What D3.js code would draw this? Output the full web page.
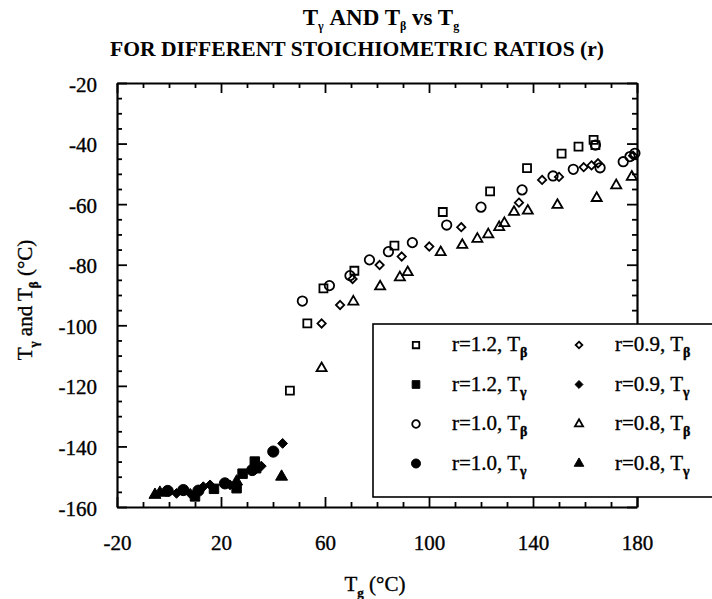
<!DOCTYPE html>
<html>
<head>
<meta charset="utf-8">
<script src="https://cdn.jsdelivr.net/npm/d3@7"></script>
<style>
  body { margin: 0; background: #fff; }
  text { font-family: "Liberation Serif", "Times New Roman", serif; fill: #000; }
  .heavy { stroke: #000; stroke-width: 0.35px; }
</style>
</head>
<body>
<div id="wrapper"></div>
<script>
// data: [Tg, T]
const r12Beta = [[46.5,-121.6],[53.2,-99.4],[59.4,-87.8],[71.3,-82],[86.7,-73.7],[105.3,-62.6],
  [123.5,-55.8],[137.7,-48.1],[151,-43.3],[157.5,-41],[163.3,-38.8],[164,-40.5]]
const r12Gamma = [[10,-156.5],[17.3,-154],[26,-153.8],[28.3,-149],[33,-145],[33.5,-147.2]]
const r10Beta = [[51.3,-92],[61.7,-86.9],[69.6,-83.6],[77.1,-78.4],[84.4,-75.7],[93.6,-72.7],
  [106.8,-66.9],[120,-61],[135.8,-55.3],[147.7,-50.7],[155.5,-48.5],[165.8,-48],[164,-40.5],
  [174.7,-46],[177.3,-44.3],[179.2,-43.2]]
const r10Gamma = [[-0.5,-154.7],[5.5,-154.4],[11.3,-154.6],[21.5,-152.2],[32,-147.8],[40.1,-141.7]]
const r09Beta = [[58.7,-99.4],[65.8,-93.3],[70.6,-84.7],[81,-80.1],[89.5,-77.3],[100.1,-74],
  [112.4,-67.6],[134.6,-59.5],[143.5,-52],[150,-51],[159.5,-47.8],[162.5,-47.2],[165,-46.5],[178.5,-44]]
const r09Gamma = [[2.9,-155.5],[8.1,-155.5],[13.2,-153.3],[15.8,-152.7],[23.5,-152.7],[35.5,-146.5],[43.7,-139]]
const r08Beta = [[58.7,-114.2],[70.9,-92.2],[81.2,-87.2],[88.8,-84.2],[91.8,-82.5],[104.5,-75.9],
  [112.8,-73.5],[118.6,-71.5],[122.8,-70],[127,-67.6],[129,-66.3],[132.7,-62.6],[138,-62.2],
  [149.4,-60.3],[164.5,-58],[172,-53.8],[178,-51]]
const r08Gamma = [[-5.4,-156],[-3.5,-155.3],[26,-151.6],[43.3,-150]]

const xTicks = [-20, 20, 60, 100, 140, 180]
const yTicks = [-20, -40, -60, -80, -100, -120, -140, -160]

const series = [
  { label: "r=1.2, ", sub: "β", data: r12Beta, shape: "square", filled: false },
  { label: "r=1.2, ", sub: "γ", data: r12Gamma, shape: "square", filled: true },
  { label: "r=1.0, ", sub: "β", data: r10Beta, shape: "circle", filled: false },
  { label: "r=1.0, ", sub: "γ", data: r10Gamma, shape: "circle", filled: true },
  { label: "r=0.9, ", sub: "β", data: r09Beta, shape: "diamond", filled: false },
  { label: "r=0.9, ", sub: "γ", data: r09Gamma, shape: "diamond", filled: true },
  { label: "r=0.8, ", sub: "β", data: r08Beta, shape: "triangle", filled: false },
  { label: "r=0.8, ", sub: "γ", data: r08Gamma, shape: "triangle", filled: true },
]

const dimensions = {
  width: 712,
  height: 599,
  margin: { top: 83, right: 75, bottom: 92, left: 117 },
}
dimensions.boundedWidth = dimensions.width - dimensions.margin.left - dimensions.margin.right
dimensions.boundedHeight = dimensions.height - dimensions.margin.top - dimensions.margin.bottom

const svg = d3.select("#wrapper").append("svg")
    .attr("width", dimensions.width)
    .attr("height", dimensions.height)

const bounds = svg.append("g")
    .attr("transform", `translate(${dimensions.margin.left},${dimensions.margin.top})`)

const xScale = d3.scaleLinear().domain([-20, 180]).range([0, dimensions.boundedWidth])
const yScale = d3.scaleLinear().domain([-160, -20]).range([dimensions.boundedHeight, 0])

const xMinor = d3.range(-10, 180, 10).filter(v => !xTicks.includes(v))
const yMinor = d3.range(-155, -20, 5).filter(v => !yTicks.includes(v))

// axes, ticks pointing inward on all four sides
const drawAxis = (gen, scale, translate, major, minor, labels) => {
  const g = bounds.append("g").attr("transform", translate)
  g.call(gen(scale).tickValues(major).tickSize(-10).tickSizeOuter(0)
      .tickFormat(labels ? d => String(d) : ""))
  g.append("g").call(gen(scale).tickValues(minor).tickSize(-5).tickSizeOuter(0).tickFormat(""))
    .select(".domain").remove()
  g.selectAll(".domain").attr("stroke", "#000").attr("stroke-width", 2.2)
  g.selectAll(".tick line").attr("stroke", "#000").attr("stroke-width", 1.8)
  g.selectAll(".tick text")
      .attr("class", "heavy")
      .style("font-size", "21px").style("font-family", "'Liberation Serif', serif")
  return g
}

const xAxis = drawAxis(d3.axisBottom, xScale, `translate(0,${dimensions.boundedHeight})`, xTicks, xMinor, true)
xAxis.selectAll(".tick text").attr("y", 0).attr("dy", 43)
drawAxis(d3.axisTop, xScale, "translate(0,0)", xTicks, xMinor, false)
const yAxis = drawAxis(d3.axisLeft, yScale, "translate(0,0)", yTicks, yMinor, true)
yAxis.selectAll(".tick text").attr("x", -20).attr("dy", 8)
drawAxis(d3.axisRight, yScale, `translate(${dimensions.boundedWidth},0)`, yTicks, yMinor, false)

// symbols
const shapeType = {
  square: d3.symbolSquare,
  circle: d3.symbolCircle,
  diamond: d3.symbolDiamond2 || d3.symbolDiamond,
  triangle: d3.symbolTriangle,
}
const shapeSize = { square: 64, circle: 70, diamond: 44, triangle: 44 }
const symbolPath = (s, k) => d3.symbol(shapeType[s.shape], shapeSize[s.shape] * k * (s.filled ? 1.4 : 1))()

const styleSymbol = (sel, s) => sel
    .attr("fill", s.filled ? "#000" : "none")
    .attr("stroke", "#000")
    .attr("stroke-width", s.filled ? 1 : 1.8)

series.forEach(s => {
  bounds.append("g").selectAll("path")
    .data(s.data)
    .join("path")
      .attr("d", symbolPath(s, 1))
      .attr("transform", d => `translate(${xScale(d[0])},${yScale(d[1])})`)
      .call(styleSymbol, s)
})

// legend (box runs past the right edge and covers the right axis)
const legend = svg.append("g")
legend.append("rect")
    .attr("x", 373).attr("y", 324)
    .attr("width", 360).attr("height", 173)
    .attr("fill", "#fff").attr("stroke", "#000").attr("stroke-width", 1.6)

series.forEach((s, i) => {
  const c = i < 4 ? 0 : 1
  const row = i % 4
  const sx = c === 0 ? 416 : 579
  const sy = 345 + row * 39.5
  legend.append("path")
      .attr("d", symbolPath(s, 0.65))
      .attr("transform", `translate(${sx},${sy})`)
      .call(styleSymbol, s)
  const t = legend.append("text")
      .attr("class", "heavy")
      .attr("x", sx + 36).attr("y", sy + 6)
      .style("font-size", "21px")
  t.append("tspan").text(s.label + "T")
  t.append("tspan").attr("dy", 6).style("font-size", "14px").style("font-weight", "bold").text(s.sub)
})

// titles
const title1 = svg.append("text")
    .attr("x", 381).attr("y", 25)
    .attr("text-anchor", "middle")
    .style("font-size", "23px").style("font-weight", "bold")
title1.append("tspan").text("T")
title1.append("tspan").attr("dy", 5).style("font-size", "12px").text("γ")
title1.append("tspan").attr("dy", -5).text(" AND T")
title1.append("tspan").attr("dy", 5).style("font-size", "12px").text("β")
title1.append("tspan").attr("dy", -5).text(" vs T")
title1.append("tspan").attr("dy", 5).style("font-size", "12px").text("g")

svg.append("text")
    .attr("x", 357).attr("y", 56)
    .attr("text-anchor", "middle")
    .attr("textLength", 494).attr("lengthAdjust", "spacingAndGlyphs")
    .style("font-size", "20px").style("font-weight", "bold")
    .text("FOR DIFFERENT STOICHIOMETRIC RATIOS (r)")

// axis labels
const xLabel = svg.append("text")
    .attr("class", "heavy")
    .attr("x", 375).attr("y", 591)
    .attr("text-anchor", "middle")
    .style("font-size", "21px")
xLabel.append("tspan").text("T")
xLabel.append("tspan").attr("dy", 6).style("font-size", "13px").style("font-weight", "bold").text("g")
xLabel.append("tspan").attr("dy", -6).text(" (°C)")

const yLabel = svg.append("text")
    .attr("class", "heavy")
    .attr("transform", "translate(32,300) rotate(-90)")
    .attr("text-anchor", "middle")
    .style("font-size", "21px")
yLabel.append("tspan").text("T")
yLabel.append("tspan").attr("dy", 6).style("font-size", "13px").style("font-weight", "bold").text("γ")
yLabel.append("tspan").attr("dy", -6).text(" and T")
yLabel.append("tspan").attr("dy", 6).style("font-size", "13px").style("font-weight", "bold").text("β")
yLabel.append("tspan").attr("dy", -6).text(" (°C)")
</script>
</body>
</html>
